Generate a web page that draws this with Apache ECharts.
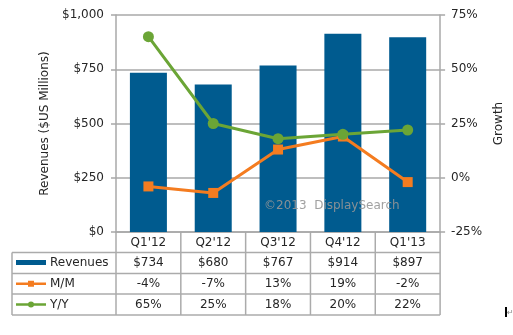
<!DOCTYPE html>
<html><head><meta charset="utf-8">
<script src="https://cdn.jsdelivr.net/npm/echarts@6/dist/echarts.min.js"></script>
<style>html,body{margin:0;padding:0;background:#fff}#c{width:513px;height:335px}</style>
</head><body><div id="c"></div>
<script>
const categories = ["Q1'12","Q2'12","Q3'12","Q4'12","Q1'13"];
const revenues = [734, 680, 767, 914, 897];
const mm = [-4, -7, 13, 19, -2];
const yy = [65, 25, 18, 20, 22];
const seriesNames = ['Revenues', 'M/M', 'Y/Y'];

const BLUE = '#005B8F', ORANGE = '#F47C20', GREEN = '#6BA536';
const FONT = 'Verdana, "DejaVu Sans", sans-serif';
const TXT = '#262626';
const GRID = '#A8A8A8';

const chart = echarts.init(document.getElementById('c'), null, {renderer: 'canvas'});
chart.setOption({
  animation: false,
  backgroundColor: '#fff',
  textStyle: {fontFamily: FONT},
  grid: {left: 116, right: 64, top: 15, bottom: 103, containLabel: false},
  xAxis: {
    type: 'category', data: categories,
    axisLine: {lineStyle: {color: GRID, width: 1.5}},
    axisTick: {show: false},
    axisLabel: {color: TXT, fontSize: 12, fontFamily: FONT, margin: 5}
  },
  yAxis: [{
    type: 'value', min: 0, max: 1000, interval: 250,
    name: 'Revenues ($US Millions)', nameLocation: 'middle', nameGap: 58,
    nameTextStyle: {color: TXT, fontSize: 12, fontFamily: FONT},
    axisLine: {show: true, lineStyle: {color: GRID, width: 1.5}},
    axisTick: {show: true, length: 5, lineStyle: {color: GRID, width: 1.5}},
    axisLabel: {color: TXT, fontSize: 12, fontFamily: FONT, margin: 12,
      formatter: v => '$' + v.toLocaleString('en-US')},
    splitLine: {show: true, lineStyle: {color: GRID, width: 1.5}}
  }, {
    type: 'value', min: -25, max: 75, interval: 25,
    name: 'Growth', nameLocation: 'middle', nameGap: 43,
    nameTextStyle: {color: TXT, fontSize: 12, fontFamily: FONT},
    axisLine: {show: true, lineStyle: {color: GRID, width: 1.5}},
    axisTick: {show: true, length: 5, lineStyle: {color: GRID, width: 1.5}},
    axisLabel: {color: TXT, fontSize: 12, fontFamily: FONT, margin: 11,
      formatter: v => v + '%'},
    splitLine: {show: false}
  }],
  series: [{
    name: seriesNames[0], type: 'bar', data: revenues, barWidth: 37,
    itemStyle: {color: BLUE}, yAxisIndex: 0
  }, {
    name: seriesNames[1], type: 'line', data: mm, yAxisIndex: 1,
    symbol: 'rect', symbolSize: 10,
    lineStyle: {color: ORANGE, width: 3}, itemStyle: {color: ORANGE}
  }, {
    name: seriesNames[2], type: 'line', data: yy, yAxisIndex: 1,
    symbol: 'circle', symbolSize: 11,
    lineStyle: {color: GREEN, width: 3}, itemStyle: {color: GREEN}
  }]
});

// Data table below the plot, aligned to the category axis
const centers = categories.map((c, i) => chart.convertToPixel({xAxisIndex: 0}, i));
const colW = centers[1] - centers[0];
const leftEdge = centers[0] - colW / 2;
const rightEdge = centers[centers.length - 1] + colW / 2;
const axisY = chart.convertToPixel({yAxisIndex: 0}, 0);
const tableLeft = 12;
const rowTops = [axisY + 20.5, axisY + 41.5, axisY + 62];
const tableBottom = axisY + 83;
const LC = '#ABABAB';
const g = [];
function line(x1, y1, x2, y2) {
  g.push({type: 'line', silent: true, shape: {x1, y1, x2, y2}, style: {stroke: LC, lineWidth: 1.5}});
}
// horizontal lines
rowTops.forEach(y => line(tableLeft, y, rightEdge, y));
line(tableLeft, tableBottom, rightEdge, tableBottom);
// verticals
line(tableLeft, rowTops[0], tableLeft, tableBottom);
for (let i = 0; i <= categories.length; i++) {
  const x = leftEdge + i * colW;
  line(x, axisY, x, tableBottom);
}
const rows = [
  revenues.map(v => '$' + v),
  mm.map(v => v + '%'),
  yy.map(v => v + '%')
];
rows.forEach((r, ri) => {
  const yc = (rowTops[ri] + (ri < 2 ? rowTops[ri + 1] : tableBottom)) / 2;
  r.forEach((t, ci) => {
    g.push({type: 'text', silent: true, x: centers[ci], y: yc,
      style: {text: t, fill: TXT, fontSize: 12, fontFamily: FONT, align: 'center', verticalAlign: 'middle'}});
  });
  // legend key
  const kx1 = 16, kx2 = 46;
  if (ri === 0) {
    g.push({type: 'rect', silent: true, shape: {x: kx1, y: yc - 3, width: kx2 - kx1, height: 5}, style: {fill: BLUE}});
  } else {
    const col = ri === 1 ? ORANGE : GREEN;
    g.push({type: 'line', silent: true, shape: {x1: kx1, y1: yc, x2: kx2, y2: yc}, style: {stroke: col, lineWidth: 2.5}});
    if (ri === 1) g.push({type: 'rect', silent: true, shape: {x: 28, y: yc - 3, width: 6, height: 6}, style: {fill: col}});
    else g.push({type: 'circle', silent: true, shape: {cx: 31, cy: yc, r: 3}, style: {fill: col}});
  }
  g.push({type: 'text', silent: true, x: 50, y: yc,
    style: {text: seriesNames[ri], fill: TXT, fontSize: 12, fontFamily: FONT, align: 'left', verticalAlign: 'middle'}});
});
// watermark (drawn above the bars)
g.push({type: 'text', silent: true, z: 100, x: 264, y: 206,
  style: {text: '\u00A92013  DisplaySearch', fill: 'rgba(150,150,150,0.9)', fontSize: 12, fontFamily: FONT, align: 'left', verticalAlign: 'middle'}});
// paragraph mark artifact
g.push({type: 'rect', silent: true, shape: {x: 505, y: 307, width: 2, height: 10}, style: {fill: '#000'}});
g.push({type: 'text', silent: true, x: 507, y: 313,
  style: {text: '\u21B5', fill: '#888', fontSize: 8, fontFamily: FONT, align: 'left', verticalAlign: 'middle'}});
chart.setOption({graphic: g});
</script>
</body></html>
